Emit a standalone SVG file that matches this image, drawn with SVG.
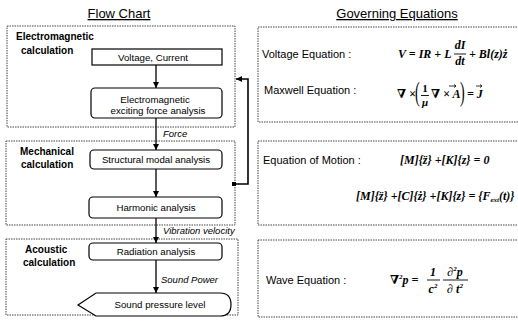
<svg xmlns="http://www.w3.org/2000/svg" width="518" height="325" viewBox="0 0 518 325">
<defs>
<style>
.box{fill:none;stroke:#444;stroke-width:1;stroke-dasharray:1.5 1}
.node{fill:#fff;stroke:#000;stroke-width:1.2}
.t{font-family:"Liberation Sans",Arial,sans-serif;font-size:9.7px;fill:#000}
.lbl{font-family:"Liberation Sans",Arial,sans-serif;font-size:10px;font-weight:bold;fill:#000}
.it{font-family:"Liberation Sans",Arial,sans-serif;font-size:9.5px;font-style:italic;fill:#000}
.title{font-family:"Liberation Sans",Arial,sans-serif;font-size:13px;fill:#000;text-decoration:underline}
.eql{font-family:"Liberation Sans",Arial,sans-serif;font-size:11px;fill:#000}
.eq{font-family:"Liberation Serif","DejaVu Serif",serif;font-size:12px;font-style:italic;font-weight:bold;fill:#000}
.par{font-family:"Liberation Serif",serif;font-size:14px;fill:#000}
.conn{stroke:#000;stroke-width:1.3;fill:none;marker-end:url(#ah)}
.vec{stroke:#000;stroke-width:0.8;fill:none}
.bar{stroke:#000;stroke-width:0.9}
</style>
<marker id="ah" markerUnits="userSpaceOnUse" markerWidth="6" markerHeight="6" refX="6" refY="3" orient="auto">
<path d="M0,0 L6,3 L0,6 Z" fill="#000"/>
</marker>
</defs>
<rect width="518" height="325" fill="#fff"/>

<text class="title" x="119" y="18" text-anchor="middle">Flow Chart</text>
<text class="title" x="397" y="18" text-anchor="middle">Governing Equations</text>

<g id="group-electromagnetic">
<rect class="box" x="7" y="26" width="228" height="101"/>
<text class="lbl" x="16" y="40">Electromagnetic</text>
<text class="lbl" x="21" y="54">calculation</text>
</g>
<g id="group-mechanical">
<rect class="box" x="6" y="141" width="229" height="84"/>
<text class="lbl" x="20" y="155">Mechanical</text>
<text class="lbl" x="21" y="168">calculation</text>
</g>
<g id="group-acoustic">
<rect class="box" x="6" y="239" width="232" height="76"/>
<text class="lbl" x="25" y="253">Acoustic</text>
<text class="lbl" x="23" y="266">calculation</text>
</g>

<g id="node-voltage">
<rect class="node" x="92" y="49" width="130" height="16"/>
<text class="t" x="153" y="61" text-anchor="middle">Voltage, Current</text>
</g>
<g id="node-emforce">
<rect class="node" x="91" y="88" width="131" height="30" rx="4"/>
<text class="t" x="155" y="103" text-anchor="middle">Electromagnetic</text>
<text class="t" x="158" y="114" text-anchor="middle">exciting force analysis</text>
</g>
<g id="node-structural">
<rect class="node" x="90" y="150" width="132" height="19" rx="4"/>
<text class="t" x="156" y="163" text-anchor="middle">Structural modal analysis</text>
</g>
<g id="node-harmonic">
<rect class="node" x="89" y="197" width="133" height="21" rx="4"/>
<text class="t" x="156" y="211" text-anchor="middle">Harmonic analysis</text>
</g>
<g id="node-radiation">
<rect class="node" x="89" y="243" width="133" height="17" rx="4"/>
<text class="t" x="156" y="255" text-anchor="middle">Radiation analysis</text>
</g>
<g id="node-spl">
<path class="node" d="M78,305 L96,293 L220,293 Q231,293 231,304.5 Q231,316 220,316 L96,316 Z"/>
<text class="t" x="160" y="308" text-anchor="middle">Sound pressure level</text>
</g>

<g id="connectors">
<line class="conn" x1="156" y1="65" x2="156" y2="88"/>
<line class="conn" x1="156" y1="118" x2="156" y2="150"/>
<line class="conn" x1="156" y1="169" x2="156" y2="197"/>
<line class="conn" x1="156" y1="218" x2="156" y2="243"/>
<line class="conn" x1="156" y1="260" x2="156" y2="293"/>
<polyline class="conn" points="234,184 248,184 248,79 236,79" style="stroke-width:1.6"/>
<rect x="232" y="182" width="4" height="4" fill="#000"/>
<text class="it" x="163" y="137">Force</text>
<text class="it" x="163" y="234">Vibration velocity</text>
<text class="it" x="161" y="283">Sound Power</text>
</g>

<g id="eq-box-1">
<rect class="box" x="258" y="27" width="270" height="95"/>
<text class="eql" x="262" y="58">Voltage Equation  :</text>
<text class="eq" x="398" y="58">V = IR + L</text>
<text class="eq" x="460" y="49" text-anchor="middle">dI</text>
<line class="bar" x1="454" y1="54" x2="466" y2="54"/>
<text class="eq" x="460" y="65" text-anchor="middle">dt</text>
<text class="eq" x="469" y="58">+ Bl(z)ż</text>

<text class="eql" x="264" y="94">Maxwell Equation  :</text>
<text class="eq" x="397" y="98">∇ ×</text>
<text class="par" transform="translate(415,101) scale(1,2)">(</text>
<text class="eq" x="425" y="92" text-anchor="middle" style="font-size:11px;font-style:normal">1</text>
<line class="bar" x1="421" y1="95.5" x2="429" y2="95.5"/>
<text class="eq" x="425" y="106" text-anchor="middle" style="font-size:11px">μ</text>
<text class="eq" x="431" y="98">∇ × A</text>
<path class="vec" d="M449,86 L456,86 M454,84.5 L456,86 L454,87.5"/>
<text class="par" transform="translate(460,101) scale(1,2)">)</text>
<text class="eq" x="467" y="98">= J</text>
<path class="vec" d="M476,86 L482,86 M480,84.5 L482,86 L480,87.5"/>
</g>

<g id="eq-box-2">
<rect class="box" x="258" y="141" width="270" height="84"/>
<text class="eql" x="263" y="164">Equation of Motion  :</text>
<text class="eq" x="400" y="164">[M]{z̈} +[K]{z} = 0</text>
<text class="eq" x="356" y="200">[M]{z̈} +[C]{ż} +[K]{z} = {F<tspan style="font-size:7px" dy="2">ext</tspan><tspan dy="-2">(t)}</tspan></text>
</g>

<g id="eq-box-3">
<rect class="box" x="258" y="240" width="270" height="77"/>
<text class="eql" x="266" y="284">Wave Equation  :</text>
<text class="eq" x="390" y="284">∇<tspan style="font-size:7px" dy="-5">2</tspan><tspan dy="5">p =</tspan></text>
<text class="eq" x="433" y="276" text-anchor="middle">1</text>
<line class="bar" x1="427" y1="280" x2="440" y2="280"/>
<text class="eq" x="433" y="293" text-anchor="middle">c<tspan style="font-size:7px" dy="-5">2</tspan></text>
<text class="eq" x="455" y="276" text-anchor="middle">∂<tspan style="font-size:7px" dy="-5">2</tspan><tspan dy="5">p</tspan></text>
<line class="bar" x1="443" y1="280" x2="468" y2="280"/>
<text class="eq" x="455" y="293" text-anchor="middle">∂ t<tspan style="font-size:7px" dy="-5">2</tspan></text>
</g>
</svg>
